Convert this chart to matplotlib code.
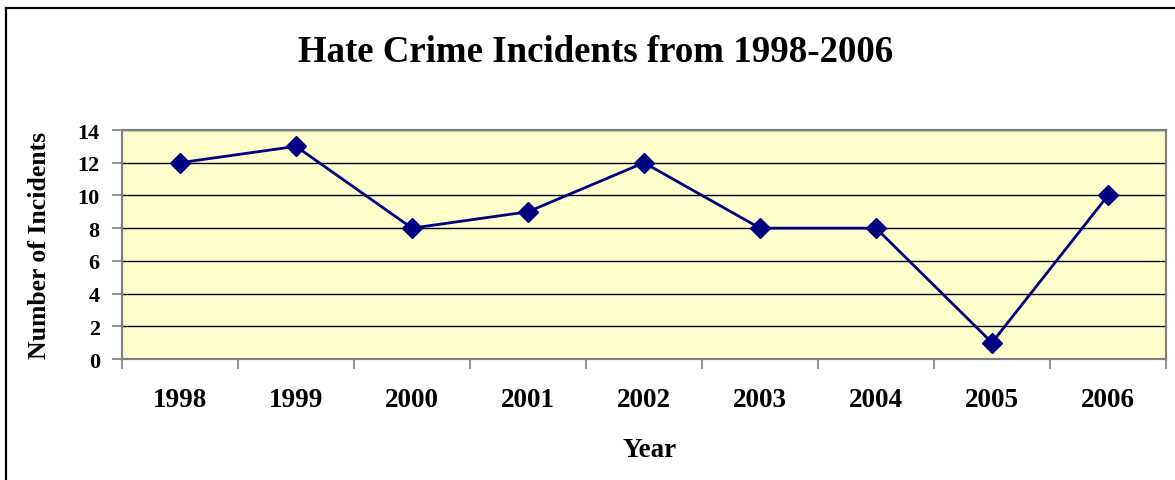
import matplotlib
matplotlib.use("Agg")
import matplotlib.pyplot as plt
from matplotlib.lines import Line2D

years = ["1998", "1999", "2000", "2001", "2002", "2003", "2004", "2005", "2006"]
incidents = [12, 13, 8, 9, 12, 8, 8, 1, 10]
y_ticks = [0, 2, 4, 6, 8, 10, 12, 14]

plt.rcParams["font.family"] = ["Liberation Serif", "DejaVu Serif"]
plt.rcParams["font.weight"] = "bold"

W, H = 1175, 481
fig = plt.figure(figsize=(W / 100, H / 100), dpi=100)
fig.patch.set_facecolor("white")

# chart border: top and left edges
fig.add_artist(Line2D([6 / W, 6 / W], [0, 1 - 9 / H], color="black", lw=1.6,
                      transform=fig.transFigure))
fig.add_artist(Line2D([6 / W, 1], [1 - 9 / H, 1 - 9 / H], color="black", lw=1.6,
                      transform=fig.transFigure))

left, right, top, bottom = 122, 1166, 131, 360
ax = fig.add_axes([left / W, 1 - bottom / H, (right - left) / W, (bottom - top) / H])
ax.set_facecolor("#FFFFCC")

x = list(range(len(years)))
ax.plot(x, incidents, color="#000080", lw=2, marker="D", markersize=10.5,
        markerfacecolor="#000080", markeredgecolor="#000080", zorder=3)

ax.set_xlim(-0.5, len(years) - 0.5)
ax.set_ylim(0, 14)
ax.set_yticks(y_ticks)
ax.set_yticklabels([str(v) for v in y_ticks], fontsize=16, fontweight="bold")
ax.yaxis.grid(True, color="black", lw=1)
ax.set_axisbelow(True)

ax.set_xticks(x)
ax.set_xticklabels(years, fontsize=19.5, fontweight="bold")
ax.set_xticks([i - 0.5 for i in range(len(years) + 1)], minor=True)
ax.tick_params(axis="x", which="major", length=0, pad=20)
ax.tick_params(axis="x", which="minor", length=7, color="#808080", width=1.2)
ax.tick_params(axis="y", length=7, color="#808080", width=1.2, pad=9)

for s in ax.spines.values():
    s.set_color("#808080")
    s.set_linewidth(1.6)

fig.text(596 / W, 1 - 52 / H, "Hate Crime Incidents from 1998-2006",
         ha="center", va="center", fontsize=26.6, fontweight="bold")
fig.text(40 / W, 1 - 245 / H, "Number of Incidents", rotation=90,
         ha="center", va="center", fontsize=18.5, fontweight="bold")
fig.text(650 / W, 1 - 451 / H, "Year", ha="center", va="center",
         fontsize=19.5, fontweight="bold")

fig.savefig("out.png", dpi=100)
